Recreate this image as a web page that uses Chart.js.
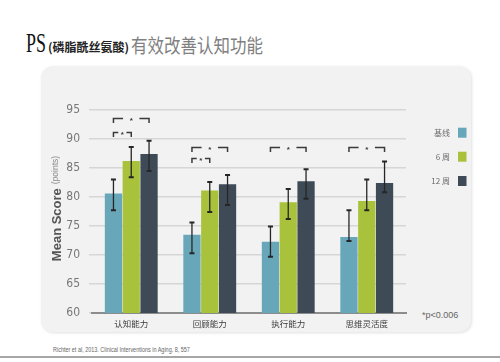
<!DOCTYPE html>
<html>
<head>
<meta charset="utf-8">
<script src="https://cdn.jsdelivr.net/npm/chart.js@4.4.1/dist/chart.umd.min.js"></script>
<style>
  html, body { margin: 0; padding: 0; background: #ffffff; }
  #wrap { position: relative; width: 500px; height: 362px; overflow: hidden; }
  #panel { position: absolute; left: 41px; top: 66px; width: 430px; height: 266px;
           background: #f2f2f2; border-radius: 12px; box-shadow: 1px 1px 3px rgba(0,0,0,0.12); }
  .t { position: absolute; white-space: nowrap; line-height: 1; }
  #ps { left: 26px; top: 28.5px; font-family: 'Liberation Serif', serif; font-size: 28px; color: #111;
        transform: scaleX(0.64); transform-origin: left top; }
  #chem { left: 48px; top: 41px; font-family: 'Noto Sans CJK SC', sans-serif; font-weight: 700; font-size: 12px; color: #222; }
  #main { left: 131px; top: 37.5px; font-family: 'Noto Sans CJK SC', sans-serif; font-weight: 400; font-size: 16.5px; color: #808080;
          transform: scaleY(1.2); transform-origin: left bottom; }
  #cite { left: 53px; top: 346px; font-family: 'Liberation Sans', sans-serif; font-size: 7px; color: #666;
          transform: scaleX(0.78); transform-origin: left top; }
  #pnote { left: 422px; top: 311px; font-family: 'Liberation Sans Narrow', 'Liberation Sans', sans-serif; font-size: 9px; color: #666; }
  #rule { position: absolute; left: 0; top: 356px; width: 500px; height: 2px; background: #a6a6a6; }
  #c { position: absolute; left: 0; top: 0; }
</style>
</head>
<body>
<div id="wrap">
  <div id="panel"></div>
  <span class="t" id="ps">PS</span>
  <span class="t" id="chem">(磷脂酰丝氨酸)</span>
  <span class="t" id="main">有效改善认知功能</span>
  <span class="t" id="pnote">*p&lt;0.006</span>
  <span class="t" id="cite">Richter et al, 2013. Clinical Interventions in Aging. 8, 557</span>
  <div id="rule"></div>
  <canvas id="c" width="500" height="362"></canvas>
</div>
<script>
// ---- data ----
const categories = ['认知能力', '回顾能力', '执行能力', '思维灵活度'];
const seriesNames = ['基线', '6 周', '12 周'];
const baseline = [80.6, 73.5, 72.3, 73.1];
const week6 = [86.2, 81.1, 79.1, 79.3];
const week12 = [87.4, 82.2, 82.7, 82.4];
const baselineHigh = [83.0, 75.6, 74.9, 77.7];
const baselineLow = [77.7, 70.3, 69.7, 72.4];
const week6High = [88.6, 82.6, 81.4, 83.0];
const week6Low = [83.4, 77.4, 76.2, 77.7];
const week12High = [89.7, 83.8, 84.8, 86.1];
const week12Low = [84.5, 78.6, 79.7, 80.8];
const yTicks = [60, 65, 70, 75, 80, 85, 90, 95];
// significance brackets: category index, from series, to series, level (score units)
const bracketCat = [0, 0, 1, 1, 2, 3];
const bracketFrom = [0, 0, 0, 0, 0, 0];
const bracketTo = [2, 1, 2, 1, 2, 2];
const bracketLevel = [93.7, 91.2, 88.6, 86.8, 88.7, 88.7];

const colors = ['#68a6b9', '#a8c23b', '#3e4a56'];
const highs = [baselineHigh, week6High, week12High];
const lows = [baselineLow, week6Low, week12Low];

const errorBars = {
  id: 'errorBars',
  afterDatasetsDraw(chart) {
    const ctx = chart.ctx, y = chart.scales.y;
    ctx.save();
    ctx.strokeStyle = '#262626';
    chart.data.datasets.forEach((ds, i) => {
      const meta = chart.getDatasetMeta(i);
      meta.data.forEach((bar, j) => {
        const yh = y.getPixelForValue(highs[i][j]);
        const yl = y.getPixelForValue(lows[i][j]);
        ctx.lineWidth = 1.3;
        ctx.beginPath(); ctx.moveTo(bar.x, yh); ctx.lineTo(bar.x, yl); ctx.stroke();
        ctx.lineWidth = 2;
        ctx.beginPath();
        ctx.moveTo(bar.x - 2.5, yh); ctx.lineTo(bar.x + 2.5, yh);
        ctx.moveTo(bar.x - 2.5, yl); ctx.lineTo(bar.x + 2.5, yl);
        ctx.stroke();
      });
    });
    ctx.restore();
  }
};

const brackets = {
  id: 'brackets',
  afterDatasetsDraw(chart) {
    const ctx = chart.ctx, y = chart.scales.y;
    ctx.save();
    ctx.strokeStyle = '#3a3a3a';
    ctx.fillStyle = '#3a3a3a';
    ctx.lineWidth = 1.5;
    for (let k = 0; k < bracketCat.length; k++) {
      const x1 = chart.getDatasetMeta(bracketFrom[k]).data[bracketCat[k]].x;
      const x2 = chart.getDatasetMeta(bracketTo[k]).data[bracketCat[k]].x;
      const yy = Math.round(y.getPixelForValue(bracketLevel[k])) + 0.5;
      const w = x2 - x1, seg = w * 0.27, xm = (x1 + x2) / 2;
      ctx.beginPath();
      ctx.moveTo(x1, yy + 4.5); ctx.lineTo(x1, yy); ctx.lineTo(x1 + seg, yy);
      ctx.moveTo(x2 - seg, yy); ctx.lineTo(x2, yy); ctx.lineTo(x2, yy + 4.5);
      ctx.stroke();
      ctx.font = 'bold 8px "Liberation Sans", sans-serif';
      ctx.textAlign = 'center'; ctx.textBaseline = 'middle';
      ctx.fillText('*', xm, yy + 2);
    }
    ctx.restore();
  }
};

const sideLegend = {
  id: 'sideLegend',
  afterDraw(chart) {
    const ctx = chart.ctx;
    const ys = [132.7, 156.7, 181];
    ctx.save();
    ctx.font = '8px "Noto Sans CJK SC", sans-serif';
    ctx.textAlign = 'right'; ctx.textBaseline = 'middle';
    seriesNames.forEach((n, i) => {
      ctx.fillStyle = '#6a6a6a';
      ctx.fillText(n, 450, ys[i]);
      ctx.fillStyle = colors[i];
      ctx.fillRect(458, ys[i] - 5, 8.5, 10);
    });
    ctx.restore();
  }
};

const yTitle = {
  id: 'yTitle',
  afterDraw(chart) {
    const ctx = chart.ctx;
    ctx.save();
    ctx.translate(57, 208.5);
    ctx.rotate(-Math.PI / 2);
    ctx.textBaseline = 'middle'; ctx.textAlign = 'left';
    const f1 = 'bold 13px "Liberation Sans", sans-serif';
    const f2 = '8.5px "Liberation Sans", sans-serif';
    ctx.font = f1; const w1 = ctx.measureText('Mean Score').width;
    ctx.font = f2; const w2 = ctx.measureText('(points)').width;
    const gap = 4, start = -(w1 + gap + w2) / 2;
    ctx.font = f1; ctx.fillStyle = '#555555'; ctx.fillText('Mean Score', start, 0);
    ctx.font = f2; ctx.fillStyle = '#8a8a8a'; ctx.fillText('(points)', start + w1 + gap, -1);
    ctx.restore();
  }
};

new Chart(document.getElementById('c'), {
  type: 'bar',
  data: {
    labels: categories,
    datasets: [
      { label: seriesNames[0], data: baseline, backgroundColor: colors[0] },
      { label: seriesNames[1], data: week6, backgroundColor: colors[1] },
      { label: seriesNames[2], data: week12, backgroundColor: colors[2] }
    ]
  },
  options: {
    responsive: false,
    animation: false,
    devicePixelRatio: 1,
    datasets: { bar: { categoryPercentage: 0.68, barPercentage: 0.97 } },
    layout: { padding: { left: 40, right: 94, top: 110, bottom: 29 } },
    plugins: { legend: { display: false }, tooltip: { enabled: false } },
    scales: {
      x: {
        afterFit(s) { s.height = 20; },
        grid: { display: false, drawTicks: false },
        border: { display: true, color: '#8c8c8c', width: 2 },
        ticks: { padding: 6, color: '#3a3a3a', font: { family: '"Noto Sans CJK SC", sans-serif', size: 8.5 } }
      },
      y: {
        min: 60, max: 95,
        afterFit(s) { s.width = 52; },
        afterBuildTicks(s) { s.ticks = yTicks.map(v => ({ value: v })); },
        grid: { color: '#d6d6d6', lineWidth: 1.5, tickLength: 3, tickColor: '#d6d6d6' },
        border: { display: false },
        ticks: { padding: 9, color: '#777777', font: { family: '"Liberation Sans Narrow", "DejaVu Sans Condensed", sans-serif', size: 12 } }
      }
    }
  },
  plugins: [errorBars, brackets, sideLegend, yTitle]
});
</script>
</body>
</html>
